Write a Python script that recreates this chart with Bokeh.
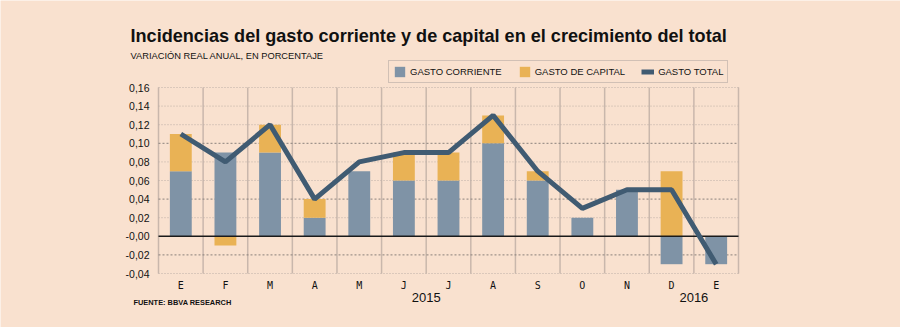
from bokeh.plotting import figure
from bokeh.models import (Label, Legend, LegendItem, ColumnDataSource, Range1d)
from bokeh.core.properties import value
from bokeh.embed import file_html
from bokeh.resources import INLINE

# ---- data ----
months = ["E", "F", "M", "A", "M", "J", "J", "A", "S", "O", "N", "D", "E"]
corriente = [0.07, 0.09, 0.09, 0.02, 0.07, 0.06, 0.06, 0.10, 0.06, 0.02, 0.05, -0.03, -0.03]
capital = [0.04, -0.01, 0.03, 0.02, 0.00, 0.03, 0.03, 0.03, 0.01, 0.00, 0.00, 0.07, 0.00]
total = [0.11, 0.08, 0.12, 0.04, 0.08, 0.09, 0.09, 0.13, 0.07, 0.03, 0.05, 0.05, -0.03]
y_ticks = [-0.04, -0.02, 0.00, 0.02, 0.04, 0.06, 0.08, 0.10, 0.12, 0.14, 0.16]
y_tick_labels = ["-0,04", "-0,02", "-0,00", "0,02", "0,04", "0,06", "0,08", "0,10", "0,12", "0,14", "0,16"]
strong_grid = [0.10, 0.04, -0.02]
years = ["2015", "2016"]

BG = "#f9e1cf"
C_CORR = "#7f93a6"
C_CAP = "#e9b255"
C_TOT = "#405b72"
TXT = "#111111"

W, H = 900, 327
# plot area in canvas pixels
FL, FR, FT, FB = 158, 738, 87, 273
n = len(months)
y0, y1 = y_ticks[0], y_ticks[-1]
xs_per_px = n / (FR - FL)
ys_per_px = (y1 - y0) / (FB - FT)
x_lo = -0.5 - FL * xs_per_px
x_hi = -0.5 + (W - FL) * xs_per_px
y_hi = y1 + FT * ys_per_px
y_lo = y1 - (H - FT) * ys_per_px

x = list(range(n))
cap_bottom = [c if (c >= 0) == (k >= 0) else 0 for c, k in zip(corriente, capital)]
cap_top = [b + k for b, k in zip(cap_bottom, capital)]

src = ColumnDataSource(dict(x=x, corr=corriente, cb=cap_bottom, ct=cap_top, tot=total))

p = figure(width=W, height=H, output_backend="svg", toolbar_location=None,
           x_range=Range1d(x_lo, x_hi), y_range=Range1d(y_lo, y_hi),
           x_axis_type=None, y_axis_type=None, min_border=0)
p.background_fill_color = BG
p.border_fill_color = BG
p.outline_line_color = None
p.grid.visible = False

# vertical grid lines at category boundaries
bx = [i - 0.5 for i in range(n + 1)]
p.segment(x0=bx, y0=[y0] * len(bx), x1=bx, y1=[y1] * len(bx),
          line_color="#c9b7ac", line_width=1.5)
# horizontal dotted grid
light = [v for v in y_ticks if v not in strong_grid and v != 0]
p.segment(x0=[-0.5] * len(light), y0=light, x1=[n - 0.5] * len(light), y1=light,
          line_color="#bcaea6", line_dash="1 2", line_width=1)
p.segment(x0=[-0.5] * len(strong_grid), y0=strong_grid, x1=[n - 0.5] * len(strong_grid),
          y1=strong_grid, line_color="#8a817c", line_dash="2 2", line_width=1)

r_corr = p.vbar(x="x", top="corr", bottom=0, width=0.49, fill_color=C_CORR,
                line_color=None, source=src)
r_cap = p.vbar(x="x", top="ct", bottom="cb", width=0.49, fill_color=C_CAP,
               line_color=None, source=src)
p.segment(x0=[-0.5], y0=[0], x1=[n - 0.5], y1=[0], line_color="#1a1a1a", line_width=1.5)
r_tot = p.line(x="x", y="tot", line_color=C_TOT, line_width=5, source=src)

# y tick labels
p.text(x=[-0.5] * len(y_ticks), y=y_ticks, text=y_tick_labels, x_offset=-9,
       text_align="right", text_baseline="middle", text_font=value("Liberation Sans"),
       text_font_size="10.5px", text_color=TXT)
# month labels
p.text(x=x, y=[y0] * n, text=months, y_offset=12,
       text_align="center", text_baseline="middle", text_font=value("DejaVu Sans Mono"),
       text_font_size="10px", text_color=TXT)
# year labels
p.text(x=[(n - 1) / 2 - 0.5, n - 1.5], y=[y0] * 2, text=years, y_offset=24,
       text_align="center", text_baseline="middle", text_font=value("Liberation Sans"),
       text_font_size="13px", text_color=TXT)

# titles (screen units from canvas bottom-left)
p.add_layout(Label(x=130, y=H - 35, x_units="screen", y_units="screen",
                   text="Incidencias del gasto corriente y de capital en el crecimiento del total",
                   text_font="Liberation Sans", text_font_style="bold", text_font_size="18.1px",
                   text_baseline="middle", text_color=TXT))
p.add_layout(Label(x=130, y=H - 55, x_units="screen", y_units="screen",
                   text="VARIACIÓN REAL ANUAL, EN PORCENTAJE",
                   text_font="Liberation Sans", text_font_size="9.3px",
                   text_baseline="middle", text_color=TXT))
p.add_layout(Label(x=133, y=H - 302, x_units="screen", y_units="screen",
                   text="FUENTE: BBVA RESEARCH",
                   text_font="Liberation Sans", text_font_style="bold", text_font_size="7.4px",
                   text_baseline="middle", text_color=TXT))

legend = Legend(items=[LegendItem(label="GASTO CORRIENTE", renderers=[r_corr]),
                       LegendItem(label="GASTO DE CAPITAL", renderers=[r_cap]),
                       LegendItem(label="GASTO TOTAL", renderers=[r_tot])],
                orientation="horizontal", location=(388, H - 83),
                label_text_font="Liberation Sans", label_text_font_size="9.5px",
                label_text_color=TXT,
                glyph_width=13, glyph_height=13, label_standoff=4, spacing=16,
                padding=4, margin=0, border_line_color="#a9a09b",
                background_fill_color=BG, background_fill_alpha=1)
p.add_layout(legend)

open("out.html", "w").write(file_html(p, INLINE))
